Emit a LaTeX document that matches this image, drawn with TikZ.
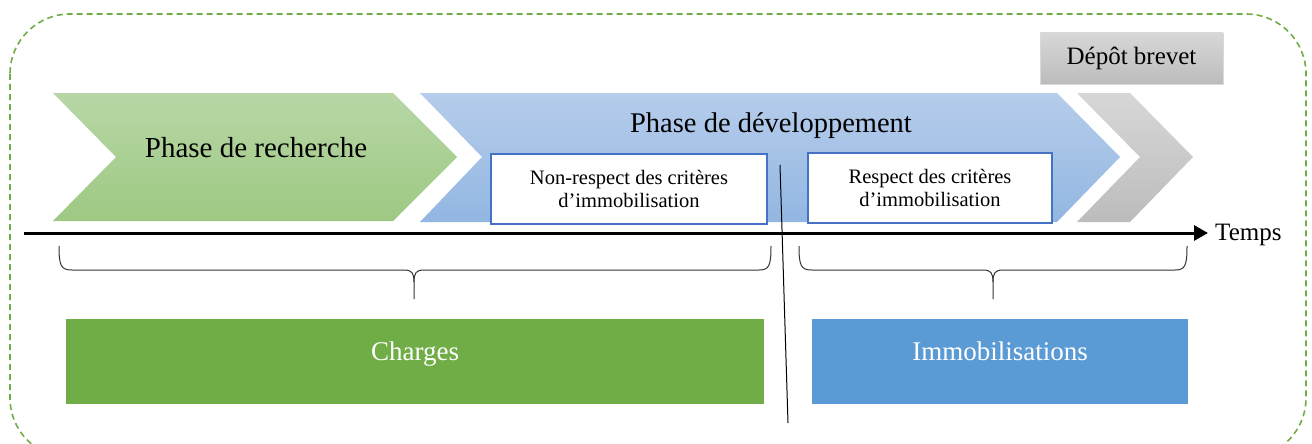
\documentclass[tikz,border=0pt]{standalone}
\usepackage{fontspec}
\setmainfont{Liberation Serif}
\usetikzlibrary{arrows.meta}
\definecolor{fgreen}{RGB}{112,173,71}
\definecolor{fblue}{RGB}{91,155,213}
\definecolor{bblue}{RGB}{68,114,196}
\definecolor{gtop}{RGB}{183,215,166}
\definecolor{gbot}{RGB}{158,200,130}
\definecolor{btop}{RGB}{182,205,235}
\definecolor{bbot}{RGB}{146,182,226}
\definecolor{ytop}{RGB}{215,215,215}
\definecolor{ybot}{RGB}{188,188,188}
\tikzset{
  frame/.style={draw=fgreen, line width=1.6pt, dash pattern=on 6pt off 4pt},
  inbox/.style={draw=bblue, line width=2pt, fill=white, align=center,
    font=\fontsize{20.5}{23}\selectfont, inner sep=0pt},
  catbox/.style={text=white, font=\fontsize{27}{30}\selectfont, inner sep=0pt},
  brace/.style={draw=black!80, line width=1pt},
}
\begin{document}
\begin{tikzpicture}[x=1pt,y=-1pt]
\useasboundingbox (0,0) rectangle (1312,444);
\begin{scope}
\clip (0,0) rectangle (1312,444);
\draw[frame, rounded corners=60pt] (10,14) rectangle (1306,458);
\end{scope}
% chevrons
\shade[top color=gtop, bottom color=gbot] (53,93) -- (393,93) -- (457,157) -- (393,221) -- (53,221) -- (116,157) -- cycle;
\shade[top color=btop, bottom color=bbot] (420,93) -- (1057,93) -- (1120,157) -- (1057,222) -- (420,222) -- (482,157) -- cycle;
\shade[top color=ytop, bottom color=ybot] (1077,93) -- (1130,93) -- (1193,157) -- (1130,222) -- (1077,222) -- (1140,157) -- cycle;
\node[anchor=base, font=\fontsize{29}{32}\selectfont] (rech) at (256,157) {Phase de recherche};
\node[anchor=base, font=\fontsize{28.5}{32}\selectfont] (dev) at (771,132) {Phase de développement};
% depot
\node[draw=black!15, top color=ytop, bottom color=ybot, minimum width=183pt, minimum height=51pt, inner sep=0pt,
  font=\fontsize{25}{28}\selectfont] (depot) at (1131.5,58.5) {Dépôt brevet};
% inner boxes
\node[inbox, minimum width=276pt, minimum height=70pt] (nonresp) at (629,189) {Non-respect des critères\\d’immobilisation};
\node[inbox, minimum width=244pt, minimum height=70pt] (resp) at (930,188) {Respect des critères\\d’immobilisation};
% axis
\coordinate (a0) at (24,233);
\coordinate (a1) at (1208,233);
\draw[line width=3pt, -{Triangle[length=14pt,width=15pt]}] (a0) -- (a1);
\node[anchor=base west, font=\fontsize{25}{28}\selectfont, inner sep=0pt] (temps) at (1215,240) {Temps};
% divider
\coordinate (v0) at (780,165);
\coordinate (v1) at (788,423);
\draw[line width=1pt] (v0) -- (v1);
% braces
\draw[brace] (59,246) .. controls (59,266) and (61,270) .. (72,270) -- (404,270)
  .. controls (412,270) and (414,273) .. (414,282) -- (414,299);
\draw[brace] (414,282) .. controls (414,273) and (416,270) .. (424,270) -- (759,270)
  .. controls (769,270) and (771,266) .. (771,246);
\draw[brace] (799,246) .. controls (799,266) and (801,270) .. (812,270) -- (983,270)
  .. controls (991,270) and (993,273) .. (993,282) -- (993,299);
\draw[brace] (993,282) .. controls (993,273) and (995,270) .. (1003,270) -- (1175,270)
  .. controls (1185,270) and (1187,266) .. (1187,246);
% categories
\node[catbox, fill=fgreen, minimum width=698pt, minimum height=85pt] (charges) at (415,361.5) {};
\node[catbox, anchor=base] at (415,360) {Charges};
\node[catbox, fill=fblue, minimum width=376pt, minimum height=85pt] (immo) at (1000,361.5) {};
\node[catbox, anchor=base] at (1000,360) {Immobilisations};
\end{tikzpicture}
\end{document}
